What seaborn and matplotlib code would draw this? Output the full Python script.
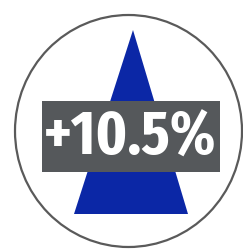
import seaborn as sns
import matplotlib.pyplot as plt
from matplotlib.patches import Ellipse, Polygon, Rectangle

# badge content
change_pct = [10.5]
label = [f"+{v}%" for v in change_pct]

# icon geometry (pixel space, y down)
circle_center = (128.5, 131)
circle_size = (227, 232)
triangle_pts = [(133, 30), (74, 214), (188, 214)]
box_xy = (42, 101)
box_wh = (178, 71)

sns.set_theme(style="white")

fig = plt.figure(figsize=(2.43, 2.49), dpi=100)
ax = fig.add_axes([0, 0, 1, 1])
ax.set_xlim(0, 243)
ax.set_ylim(249, 0)
ax.axis("off")

ax.add_patch(Ellipse(circle_center, *circle_size, facecolor="white",
                     edgecolor="#5a5a5a", linewidth=1.6))
ax.add_patch(Polygon(triangle_pts, closed=True, facecolor="#0b27a6",
                     edgecolor="none"))
ax.add_patch(Rectangle(box_xy, *box_wh, facecolor="#55585b", edgecolor="none"))

ax.text(box_xy[0] + box_wh[0] / 2 - 1, 155, label[0],
        ha="center", va="baseline", color="white", fontsize=45,
        fontweight="bold",
        family=["Fira Sans Extra Condensed", "PT Sans Narrow", "Liberation Sans", "DejaVu Sans"])

fig.savefig("out.png", dpi=100)
